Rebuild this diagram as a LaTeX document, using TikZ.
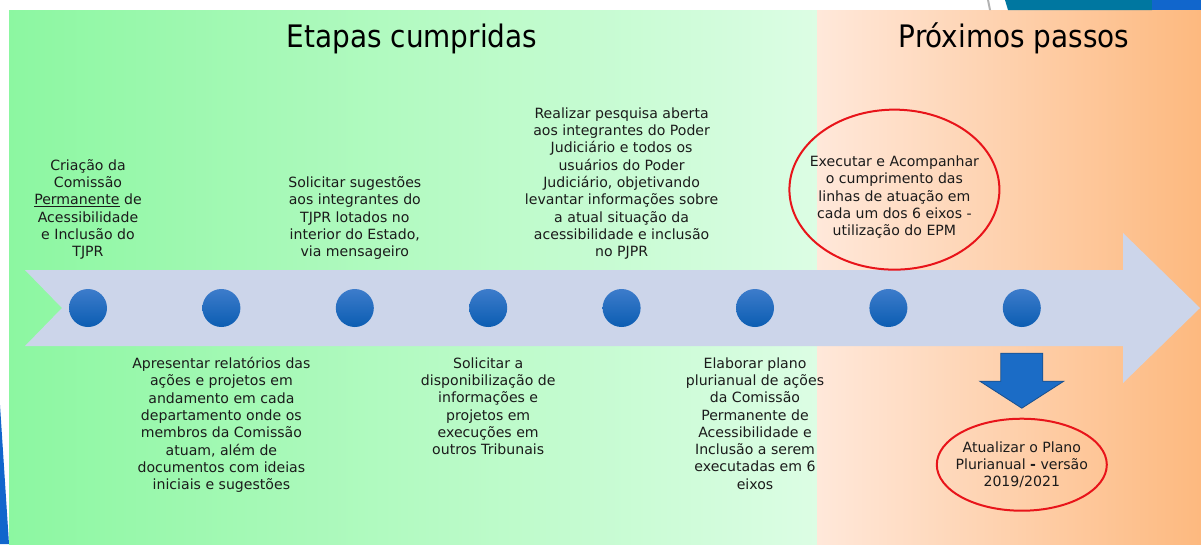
\documentclass[tikz,border=0pt]{standalone}
\usepackage{fontspec}
\setmainfont{DejaVu Sans}
\newfontfamily\headfont{DejaVu Sans Condensed}
\usepackage{tikz}
\usetikzlibrary{positioning}
\definecolor{greenL}{HTML}{8CF7A1}
\definecolor{greenR}{HTML}{DCFDE4}
\definecolor{orangeL}{HTML}{FFE8DA}
\definecolor{orangeR}{HTML}{FDB97F}
\definecolor{band}{HTML}{CCD5EA}
\definecolor{dotT}{HTML}{3D7CCB}
\definecolor{dotB}{HTML}{0B5DB2}
\definecolor{downF}{HTML}{1B6CC6}
\definecolor{downD}{HTML}{1A4F8C}
\definecolor{ringR}{HTML}{E8141A}
\definecolor{ink}{HTML}{1B1B1B}
\definecolor{slideT}{HTML}{0077A0}
\definecolor{slideB}{HTML}{1166CC}

\begin{document}
\begin{tikzpicture}[x=1pt, y=-1pt, node distance=95pt,
		dot/.style={circle, minimum size=38pt, inner sep=0pt, top color=dotT, bottom color=dotB},
		txt/.style={align=center, inner sep=0pt, text=ink, font=\fontsize{14.1}{17.3}\selectfont},
		uptxt/.style={txt, text depth=0pt},
		title/.style={anchor=base, inner sep=0pt, text=black, font=\headfont\fontsize{31}{36}\selectfont},
		ring/.style={draw=ringR, line width=2pt}]
		\fill[white] (0,0) rectangle (1201,544);
		\fill[left color=greenL, right color=greenR] (9,10) rectangle (817,544);
		\fill[left color=orangeL, right color=orangeR] (817,10) rectangle (1201,544);
		\fill[slideB] (0,405) -- (9,544) -- (0,544) -- cycle;
		\fill[gray!60] (987,0) -- (989,0) -- (991,10) -- (989,10) -- cycle;
		\fill[slideT] (1005,0) -- (1152,0) -- (1152,10) -- (1008,10) -- cycle;
		\fill[slideB] (1152,0) rectangle (1201,10);
		\fill[band] (25,270) -- (1123,270) -- (1123,233) -- (1200,308) -- (1123,383)
		-- (1123,346) -- (25,346) -- (62,308) -- cycle;
		\node[title] (done) at (412,47) {Etapas cumpridas};
		\node[title] (next) at (1014,47) {Próximos passos};
		\node[dot] (c1) at (88,308) {};
		\node[dot, right = of c1] (c2) {};
		\node[dot, right = of c2] (c3) {};
		\node[dot, right = of c3] (c4) {};
		\node[dot, right = of c4] (c5) {};
		\node[dot, right = of c5] (c6) {};
		\node[dot, right = of c6] (c7) {};
		\node[dot, right = of c7] (c8) {};
		\node[uptxt, above = 32pt of c1] (t1) {Criação da\\Comissão\\\underline{Permanente} de\\Acessibilidade\\e Inclusão do\\TJPR};
		\node[uptxt, above = 32pt of c3] (t3) {Solicitar sugestões\\aos integrantes do\\TJPR lotados no\\interior do Estado,\\via mensageiro};
		\node[uptxt, above = 32pt of c5] (t5) {Realizar pesquisa aberta\\aos integrantes do Poder\\Judiciário e todos os\\usuários do Poder\\Judiciário, objetivando\\levantar informações sobre\\a atual situação da\\acessibilidade e inclusão\\no PJPR};
		\node[uptxt, above = 53pt of c7, xshift=6pt] (t7) {Executar e Acompanhar\\o cumprimento das\\linhas de atuação em\\cada um dos 6 eixos -\\utilização do EPM};
		\node[txt, below = 30pt of c2] (t2) {Apresentar relatórios das\\ações e projetos em\\andamento em cada\\departamento onde os\\membros da Comissão\\atuam, além de\\documentos com ideias\\iniciais e sugestões};
		\node[txt, below = 30pt of c4] (t4) {Solicitar a\\disponibilização de\\informações e\\projetos em\\execuções em\\outros Tribunais};
		\node[txt, below = 30pt of c6] (t6) {Elaborar plano\\plurianual de ações\\da Comissão\\Permanente de\\Acessibilidade e\\Inclusão a serem\\executadas em 6\\eixos};
		\node[txt, below = 114pt of c8] (t8) {Atualizar o Plano\\Plurianual \textbf{-} versão\\2019/2021};
		\draw[ring] ([yshift=6pt]t7.center) ellipse [x radius=105pt, y radius=80pt];
		\draw[ring] (t8.center) ellipse [x radius=85pt, y radius=46pt];
		\coordinate[below = 26pt of c8] (d);
		\filldraw[fill=downF, draw=downD, line width=0.8pt] (d) ++(-21,0) -- ++(42,0) -- ++(0,28)
		-- ++(21,0) -- ++(-42,27) -- ++(-42,-27) -- ++(21,0) -- cycle;
		\end{tikzpicture}
\end{document}
